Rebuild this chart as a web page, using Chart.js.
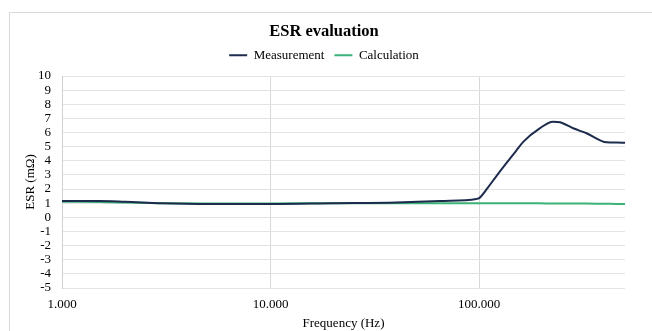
<!DOCTYPE html>
<html>
<head>
<meta charset="utf-8">
<script src="https://cdn.jsdelivr.net/npm/chart.js@4/dist/chart.umd.min.js"></script>
<style>
  html, body { margin: 0; padding: 0; background: #fff; }
  #wrap { position: relative; width: 652px; height: 331px; overflow: hidden; }
  #frame { position: absolute; left: 9px; top: 12px; width: 700px; height: 400px; border: 1px solid #d9d9d9; }
  #myChart { position: absolute; left: 0; top: 0; }
</style>
</head>
<body>
<div id="wrap">
  <div id="frame"></div>
  <canvas id="myChart" width="652" height="331"></canvas>
</div>
<script>
// frequency points (Hz)
const freqs = [1000, 1500, 2000, 3000, 5000, 10000, 20000, 40000, 65000, 97000, 100000,
  110000, 120000, 135000, 150000, 163000, 195000, 226000, 244000, 282000, 327000, 408000, 456000, 500000];
// ESR in mOhm
const measurement = [1.15, 1.15, 1.1, 1.0, 0.95, 0.95, 1.0, 1.05, 1.15, 1.3, 1.36,
  2.1, 2.85, 3.83, 4.69, 5.36, 6.3, 6.77, 6.73, 6.3, 5.95, 5.31, 5.29, 5.27];
const calculation = [1.1, 1.08, 1.05, 1.0, 0.98, 0.98, 1.0, 1.0, 1.0, 1.0, 1.0,
  1.0, 1.0, 1.0, 0.99, 0.99, 0.99, 0.98, 0.98, 0.98, 0.97, 0.96, 0.95, 0.95];
const xTicks = [1000, 10000, 100000];

const serif = "'Liberation Serif', 'Times New Roman', serif";
const fmt = v => v.toLocaleString('de-DE');

let ctx = document.getElementById('myChart').getContext('2d');
let chart = new Chart(ctx, {
  type: 'line',
  data: {
    datasets: [{
      label: 'Measurement',
      data: freqs.map((f, i) => ({ x: f, y: measurement[i] })),
      borderColor: '#1d2b4c',
      backgroundColor: '#1d2b4c',
      borderWidth: 2,
      pointRadius: 0,
      cubicInterpolationMode: 'monotone'
    }, {
      label: 'Calculation',
      data: freqs.map((f, i) => ({ x: f, y: calculation[i] })),
      borderColor: '#3bb377',
      backgroundColor: '#3bb377',
      borderWidth: 2,
      pointRadius: 0,
      cubicInterpolationMode: 'monotone'
    }]
  },
  options: {
    responsive: false,
    animation: false,
    layout: { padding: { left: 23, right: 27, top: 0, bottom: 0 } },
    plugins: {
      title: {
        display: true,
        text: 'ESR evaluation',
        color: '#000',
        font: { family: serif, size: 16.5, weight: 'bold' },
        padding: { top: 22, bottom: -3 }
      },
      // empty spacer between legend and plot
      subtitle: {
        display: true,
        text: ' ',
        weight: 500,
        font: { size: 1 },
        padding: { top: 0, bottom: 3 }
      },
      legend: {
        display: true,
        labels: {
          color: '#000',
          font: { family: serif, size: 13 },
          boxWidth: 18,
          boxHeight: 0,
          padding: 10
        }
      },
      tooltip: { enabled: false }
    },
    scales: {
      x: {
        type: 'logarithmic',
        min: 1000,
        max: 500000,
        afterBuildTicks: axis => { axis.ticks = xTicks.map(v => ({ value: v })); },
        afterFit: axis => { axis.height = 43; },
        ticks: {
          color: '#000',
          font: { family: serif, size: 13 },
          maxRotation: 0,
          padding: 9,
          callback: v => fmt(v)
        },
        grid: { color: '#d9d9d9', drawTicks: false },
        border: { display: false },
        title: {
          display: true,
          text: 'Frequency (Hz)',
          color: '#000',
          font: { family: serif, size: 13 },
          padding: { top: 0, bottom: 0 }
        }
      },
      y: {
        min: -5,
        max: 10,
        afterFit: axis => { axis.width = 39; },
        ticks: {
          stepSize: 1,
          autoSkip: false,
          color: '#000',
          font: { family: serif, size: 13 },
          padding: 11
        },
        grid: { color: '#e3e3e3', drawTicks: false },
        border: { display: true, color: '#d0d0d0' },
        title: {
          display: true,
          text: 'ESR (mΩ)',
          color: '#000',
          font: { family: serif, size: 13 },
          padding: { top: 0, bottom: 0 }
        }
      }
    }
  }
});
</script>
</body>
</html>
